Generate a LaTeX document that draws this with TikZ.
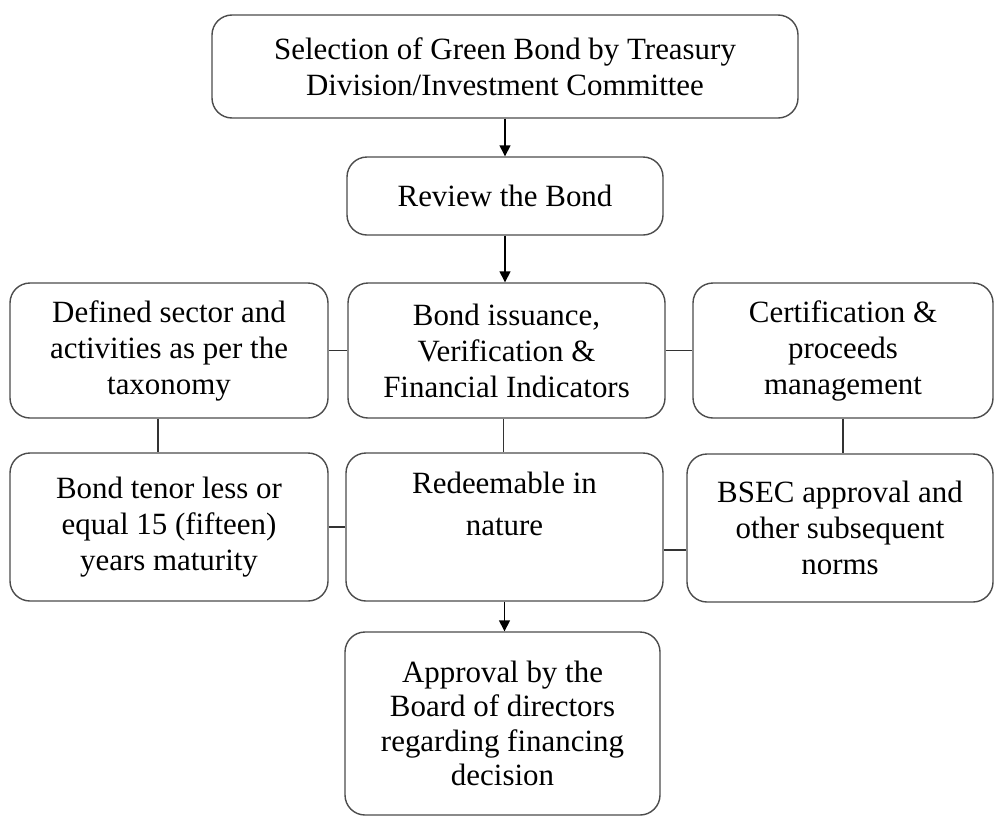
\documentclass[tikz,border=0pt]{standalone}
\usepackage{fontspec}
\setmainfont{Liberation Serif}
\usepackage{tikz}
\usetikzlibrary{arrows.meta,positioning}

\begin{document}
\begin{tikzpicture}[>={Triangle[width=0.22cm,length=0.22cm]},
  stepbox/.style={draw=black!70,line width=0.8pt,rounded corners=0.4cm,
    fill=white,align=center,inner sep=2pt,
    font=\fontsize{17.6}{20.5}\selectfont},
  link/.style={draw=black!80,line width=0.8pt}]

  \useasboundingbox (0,0) rectangle (19.9,-16.36);

  % top of the chain
  \node[stepbox,minimum width=11.72cm,minimum height=2.06cm] (select) at (10.1,-1.33)
    {Selection of Green Bond by Treasury\\Division/Investment Committee};
  \node[stepbox,minimum width=6.32cm,minimum height=1.56cm] (review) at (10.1,-3.92)
    {Review the Bond};

  % row of criteria
  \node[stepbox,minimum width=6.36cm,minimum height=2.7cm] (sector) at (3.38,-7.01)
    {Defined sector and\\activities as per the\\taxonomy};
  \node[stepbox,minimum width=6.34cm,minimum height=2.7cm] (issue) at (10.13,-7.01)
    {Bond issuance,\\Verification \&\\Financial Indicators};
  \node[stepbox,minimum width=6.0cm,minimum height=2.7cm] (certify) at (16.86,-7.01)
    {Certification \&\\proceeds\\management};

  \node[stepbox,minimum width=6.36cm,minimum height=2.96cm] (tenor) at (3.38,-10.54)
    {Bond tenor less or\\equal 15 (fifteen)\\years maturity};
  \node[stepbox,minimum width=6.34cm,minimum height=2.96cm] (redeem) at (10.09,-10.54)
    {Redeemable in\\[0.12cm]nature\\\strut};
  \node[stepbox,minimum width=6.12cm,minimum height=2.96cm] (bsec) at (16.8,-10.56)
    {BSEC approval and\\other subsequent\\norms};

  % final decision
  \node[stepbox,minimum width=6.3cm,minimum height=3.66cm,
    font=\fontsize{17.6}{19.6}\selectfont] (board) at (10.05,-14.47)
    {Approval by the\\Board of directors\\regarding financing\\decision};

  % arrows
  \draw[->,line width=0.8pt] (review.north |- select.south) -- (review.north);
  \draw[->,line width=0.8pt] (review.south) -- (review.south |- issue.north);
  \draw[->,line width=0.8pt] (redeem.south) -- (redeem.south |- board.north);

  % plain links
  \draw[link] (sector.east) -- (issue.west);
  \draw[link] (issue.east) -- (certify.west);
  \draw[link] (tenor.east) -- (tenor.east -| redeem.west);
  \draw[link] ([yshift=-0.46cm]redeem.east) -- ([yshift=-0.46cm]redeem.east -| bsec.west);
  \draw[link] ([xshift=-0.22cm]sector.south) -- ([xshift=-0.22cm]tenor.north);
  \draw[link] ([xshift=-0.06cm]issue.south) -- ([xshift=-0.06cm]issue.south |- redeem.north);
  \draw[link] (certify.south) -- (certify.south |- bsec.north);

\end{tikzpicture}
\end{document}
